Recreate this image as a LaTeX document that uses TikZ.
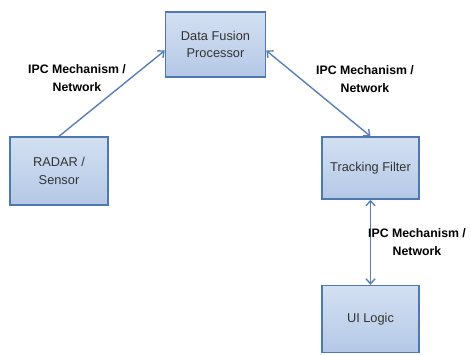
\documentclass[tikz,border=0pt]{standalone}
\usepackage{fontspec}
\setmainfont{Liberation Sans}
\usetikzlibrary{arrows.meta}
\definecolor{boxborder}{HTML}{4F78B0}
\definecolor{boxtop}{HTML}{D3E0F2}
\definecolor{boxbot}{HTML}{B4C8E6}
\definecolor{arrowcol}{HTML}{5A7FB8}
\tikzset{
  procbox/.style={draw=boxborder, line width=1.4pt, top color=boxtop, bottom color=boxbot,
    align=center, font=\fontsize{12.8}{17.5}\selectfont, text=black!80, inner sep=0pt},
  link/.style={draw=arrowcol, line width=1.4pt},
  ipclabel/.style={align=center, font=\bfseries\fontsize{12.3}{18}\selectfont, inner sep=0pt}
}
\begin{document}
\begin{tikzpicture}[x=1pt,y=-1pt]
\useasboundingbox (0,0) rectangle (471,354);
\node[procbox, minimum width=100pt, minimum height=65pt] (dfp) at (215.5,44.5) {Data Fusion\\Processor};
\node[procbox, minimum width=98pt, minimum height=68pt] (radar) at (59,171) {RADAR /\\Sensor};
\node[procbox, minimum width=97pt, minimum height=62pt] (track) at (370.5,168) {Tracking Filter};
\node[procbox, minimum width=97pt, minimum height=67pt] (ui) at (370.5,319) {UI Logic};
\draw[link, -{Straight Barb[length=5pt,width=9pt]}] (radar.north) -- ([yshift=-6pt]dfp.west);
\draw[link, {Straight Barb[length=5pt,width=9pt]}-{Straight Barb[length=5pt,width=9pt]}] ([yshift=-6pt]dfp.east) -- (track.north);
\draw[link, {Straight Barb[length=5pt,width=9pt]}-{Straight Barb[length=5pt,width=9pt]}] (track.south) -- (ui.north);
\node[ipclabel] (l1) at (77,78) {IPC Mechanism /\\Network};
\node[ipclabel] (l2) at (365,79) {IPC Mechanism /\\Network};
\node[ipclabel] (l3) at (417,242) {IPC Mechanism /\\Network};
\end{tikzpicture}
\end{document}
